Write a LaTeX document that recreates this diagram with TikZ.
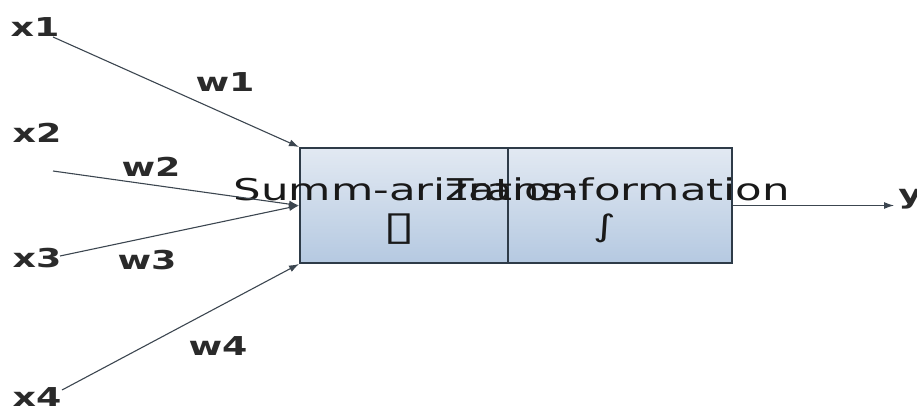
\documentclass[tikz,border=0pt]{standalone}
\usepackage{fontspec}
\setmainfont{DejaVu Sans}
\usetikzlibrary{arrows.meta}

\definecolor{boxtop}{HTML}{E2E9F2}
\definecolor{boxbot}{HTML}{B5C9E1}
\definecolor{boxline}{HTML}{2E3B48}
\definecolor{wire}{HTML}{3C4650}
\definecolor{labgray}{HTML}{2A2A2A}

\tikzset{
  block/.style={draw=boxline,line width=2pt,top color=boxtop,bottom color=boxbot,
    minimum height=115pt,inner sep=0pt},
  blocktext/.style={font=\fontsize{30}{34}\selectfont,text=black!90,xscale=1.45,inner sep=0pt},
  lab/.style={font=\fontsize{26}{30}\selectfont\bfseries,text=labgray,xscale=1.4,inner sep=0pt},
  wirearrow/.style={draw=wire,line width=1.1pt,-{Latex[length=10pt,width=7pt]}}
}

\begin{document}
\begin{tikzpicture}[x=1pt,y=1pt]
\useasboundingbox (0,0) rectangle (917,410);

% the two stages
\node[block,minimum width=208pt] (sum) at (404,204.5) {};
\node[block,minimum width=224pt] (trans) at (620,204.5) {};
\node[blocktext] (sumtext) at (406,221) {Summ-arization};
\node[blocktext] (transtext) at (619,221) {Trans-formation};
\node[blocktext,font=\fontsize{40}{44}\selectfont,xscale=1] (sumsym) at (399,181) {▯};
\node[blocktext] (transsym) at (605,182) {∫};

% inputs and weights
\node[lab] (x1) at (35,383) {x1};
\node[lab] (x2) at (37,277) {x2};
\node[lab] (x3) at (37,152) {x3};
\node[lab] (x4) at (37,13) {x4};
\node[lab] (w1) at (225,328) {w1};
\node[lab] (w2) at (151,243) {w2};
\node[lab] (w3) at (147,150) {w3};
\node[lab] (w4) at (218,64) {w4};

\coordinate (t1) at (53,373);
\coordinate (t2) at (53,239);
\coordinate (t3) at (60,154);
\coordinate (t4) at (62,20);

\draw[wirearrow] (t1) -- (sum.north west);
\draw[wirearrow] (t2) -- (sum.west);
\draw[wirearrow] (t3) -- (sum.west);
\draw[wirearrow] (t4) -- (sum.south west);

% output
\coordinate (yout) at (894,204.5);
\draw[wirearrow] (trans.east) -- (yout);
\node[lab,anchor=west] (y) at (898,211) {y};
\end{tikzpicture}
\end{document}
